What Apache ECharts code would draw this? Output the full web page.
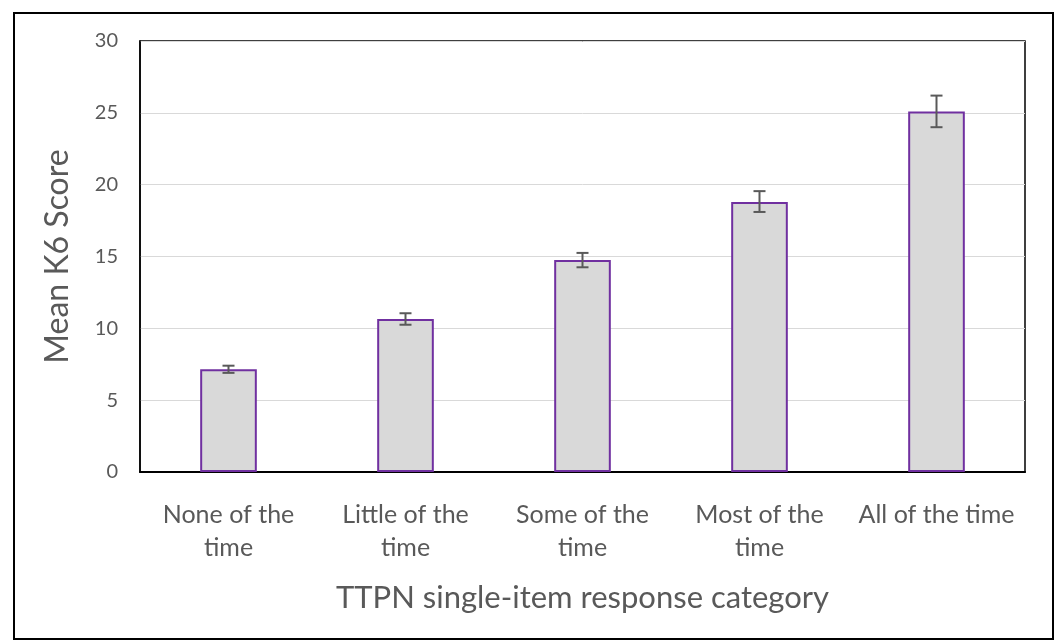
<!DOCTYPE html>
<html>
<head>
<meta charset="utf-8">
<script src="https://cdn.jsdelivr.net/npm/echarts@6/dist/echarts.min.js"></script>
<style>
  html, body { margin: 0; padding: 0; background: #fff; }
  #chart { width: 1056px; height: 641px; }
</style>
</head>
<body>
<div id="chart"></div>
<script>
// data
const categories = ['None of the\ntime', 'Little of the\ntime', 'Some of the\ntime', 'Most of the\ntime', 'All of the time']
const meanScores = [7.15, 10.65, 14.75, 18.8, 25.1]
const errLow = [6.9, 10.25, 14.25, 18.1, 24.0]
const errHigh = [7.4, 11.05, 15.25, 19.55, 26.2]
const yTicks = [0, 5, 10, 15, 20, 25, 30]

const textColor = '#595959'
const font = 'Lato, "Open Sans", sans-serif'

const chart = echarts.init(document.getElementById('chart'))

chart.setOption({
  animation: false,
  graphic: [{
    type: 'rect',
    shape: { x: 14, y: 13, width: 1039, height: 626 },
    style: { fill: 'none', stroke: '#000', lineWidth: 2 },
    z: 100
  }],
  grid: {
    left: 140,
    right: 31,
    top: 41,
    bottom: 169,
    show: true,
    borderColor: '#000',
    borderWidth: 1.5
  },
  xAxis: {
    type: 'category',
    data: categories,
    name: 'TTPN single-item response category',
    nameLocation: 'middle',
    nameGap: 110,
    nameTextStyle: { fontSize: 31, color: textColor, fontFamily: font },
    axisLine: { lineStyle: { color: '#000', width: 2 } },
    axisTick: { show: false },
    axisLabel: {
      fontSize: 25,
      lineHeight: 33,
      color: textColor,
      fontFamily: font,
      margin: 26,
      interval: 0
    }
  },
  yAxis: {
    type: 'value',
    min: yTicks[0],
    max: yTicks[yTicks.length - 1],
    interval: 5,
    name: 'Mean K6 Score',
    nameLocation: 'middle',
    nameGap: 66,
    nameTextStyle: { fontSize: 32, color: textColor, fontFamily: font },
    axisLine: { show: true, lineStyle: { color: '#000', width: 1.5 } },
    axisTick: { show: false },
    axisLabel: { fontSize: 20, color: textColor, fontFamily: font, margin: 22 },
    splitLine: { lineStyle: { color: '#d9d9d9', width: 1 } }
  },
  series: [{
    type: 'bar',
    data: meanScores,
    barWidth: '32%',
    itemStyle: { color: '#d9d9d9', borderColor: '#7030a0', borderWidth: 2 }
  }, {
    type: 'custom',
    data: categories.map((c, i) => [i, errLow[i], errHigh[i]]),
    encode: { x: 0, y: [1, 2] },
    z: 10,
    renderItem: (params, api) => {
      const lo = api.coord([api.value(0), api.value(1)])
      const hi = api.coord([api.value(0), api.value(2)])
      const half = 6
      const style = { stroke: '#595959', lineWidth: 2 }
      return {
        type: 'group',
        children: [
          { type: 'line', shape: { x1: lo[0], y1: lo[1], x2: hi[0], y2: hi[1] }, style },
          { type: 'line', shape: { x1: lo[0] - half, y1: lo[1], x2: lo[0] + half, y2: lo[1] }, style },
          { type: 'line', shape: { x1: hi[0] - half, y1: hi[1], x2: hi[0] + half, y2: hi[1] }, style }
        ]
      }
    }
  }]
})
</script>
</body>
</html>
